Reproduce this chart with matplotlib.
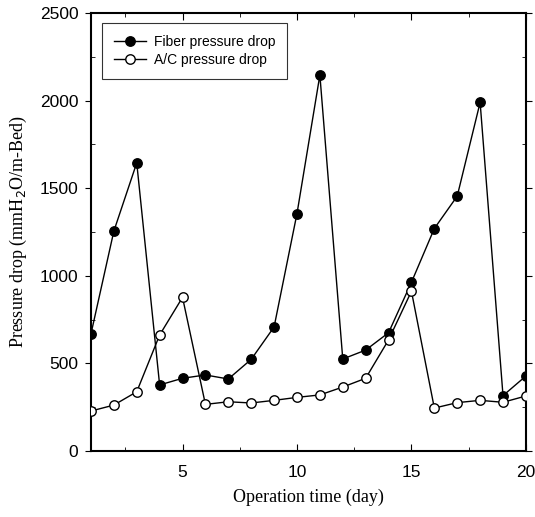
import matplotlib
matplotlib.use("Agg")
import matplotlib.pyplot as plt
from matplotlib.ticker import MultipleLocator

days = list(range(1, 21))
fiber = [668, 1255, 1645, 377, 415, 434, 411, 523, 708, 1355,
         2146, 525, 576, 675, 963, 1270, 1455, 1990, 316, 428]
ac = [228, 262, 338, 662, 877, 266, 281, 274, 289, 306,
      320, 365, 415, 634, 912, 245, 276, 289, 278, 314]

fig = plt.figure(figsize=(5.35, 5.17), dpi=100)
ax = fig.add_axes([0.170, 0.1277, 0.813, 0.847])

ax.plot(days, fiber, '-o', color='black', lw=1.0, ms=6.8,
        mfc='black', mec='black', label='Fiber pressure drop', zorder=3)
ax.plot(days, ac, '-o', color='black', lw=1.0, ms=6.8,
        mfc='white', mec='black', mew=1.0, label='A/C pressure drop', zorder=3)

ax.set_xlim(1, 20)
ax.set_ylim(0, 2500)
ax.xaxis.set_major_locator(MultipleLocator(5))
ax.xaxis.set_minor_locator(MultipleLocator(2.5))
ax.yaxis.set_major_locator(MultipleLocator(500))
ax.yaxis.set_minor_locator(MultipleLocator(250))

sans = ['Liberation Sans', 'DejaVu Sans']
serif = ['Liberation Serif', 'DejaVu Serif']
ax.tick_params(axis='both', which='both', direction='in', top=True, right=True)
ax.tick_params(axis='y', which='major', direction='out', length=4, pad=5)
ax.tick_params(axis='x', which='major', length=5, pad=10)
ax.tick_params(which='minor', length=3)
for lab in ax.get_xticklabels() + ax.get_yticklabels():
    lab.set_fontfamily(sans)
    lab.set_fontsize(12.5)

for s in ax.spines.values():
    s.set_linewidth(1.5)

ax.set_xlabel('Operation time (day)', family=serif, fontsize=13, labelpad=6)
ax.set_ylabel('Pressure drop (mmH$_2$O/m-Bed)', family=serif, fontsize=13, labelpad=8)

leg = ax.legend(loc='upper left', bbox_to_anchor=(0.025, 0.977), frameon=True,
                fancybox=False, edgecolor='black', prop={'family': sans, 'size': 10},
                handlelength=2.3, handletextpad=0.6, borderpad=0.85, labelspacing=0.3,
                borderaxespad=0)
leg.get_frame().set_linewidth(0.8)

fig.savefig('out.png', dpi=100)
